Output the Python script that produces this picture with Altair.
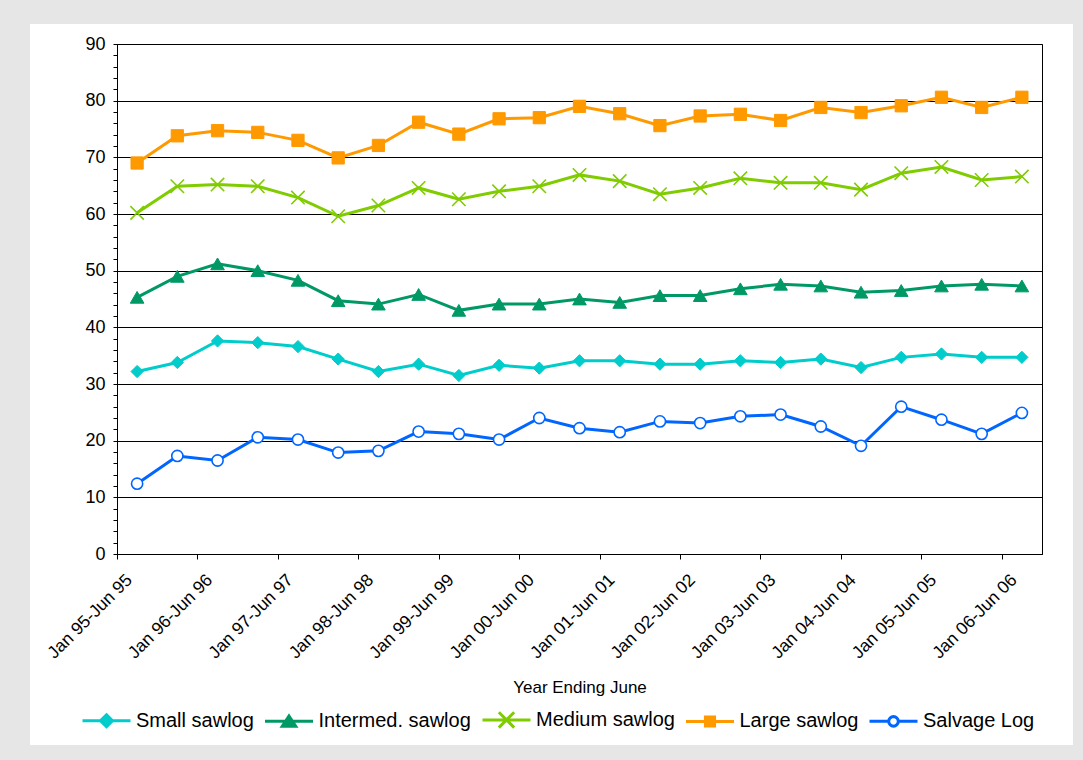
import json
import math
import altair as alt
import pandas as pd

periods = [
    "Jan 95-Jun 95", "Jul 95-Dec 95", "Jan 96-Jun 96", "Jul 96-Dec 96",
    "Jan 97-Jun 97", "Jul 97-Dec 97", "Jan 98-Jun 98", "Jul 98-Dec 98",
    "Jan 99-Jun 99", "Jul 99-Dec 99", "Jan 00-Jun 00", "Jul 00-Dec 00",
    "Jan 01-Jun 01", "Jul 01-Dec 01", "Jan 02-Jun 02", "Jul 02-Dec 02",
    "Jan 03-Jun 03", "Jul 03-Dec 03", "Jan 04-Jun 04", "Jul 04-Dec 04",
    "Jan 05-Jun 05", "Jul 05-Dec 05", "Jan 06-Jun 06",
]
series = ["Small sawlog", "Intermed. sawlog", "Medium sawlog", "Large sawlog", "Salvage Log"]

small = [32.2, 33.8, 37.6, 37.3, 36.6, 34.4, 32.2, 33.5, 31.5, 33.3, 32.8, 34.1,
         34.1, 33.5, 33.5, 34.1, 33.8, 34.4, 32.9, 34.7, 35.3, 34.7, 34.7]
intermed = [45.3, 49.0, 51.2, 50.0, 48.3, 44.7, 44.1, 45.8, 43.0, 44.1, 44.1, 45.0,
            44.4, 45.6, 45.6, 46.8, 47.6, 47.3, 46.2, 46.5, 47.3, 47.6, 47.3]
medium = [60.2, 64.9, 65.2, 64.9, 62.9, 59.6, 61.5, 64.6, 62.6, 64.0, 64.9, 66.9,
          65.8, 63.5, 64.6, 66.3, 65.5, 65.5, 64.3, 67.2, 68.3, 66.0, 66.6]
large = [69.0, 73.8, 74.7, 74.4, 73.0, 69.9, 72.1, 76.2, 74.1, 76.8, 77.0, 79.0,
         77.7, 75.6, 77.3, 77.6, 76.5, 78.8, 77.9, 79.1, 80.6, 78.8, 80.6]
salvage = [12.4, 17.3, 16.5, 20.6, 20.2, 17.9, 18.2, 21.6, 21.2, 20.2, 24.0, 22.2,
           21.5, 23.4, 23.1, 24.3, 24.6, 22.5, 19.1, 26.0, 23.7, 21.2, 24.9]

colors = ["#00CCCC", "#009966", "#7FCC00", "#FF9900", "#0066FF"]

FONT = "Liberation Sans"

rows = []
for name, vals in zip(series, [small, intermed, medium, large, salvage]):
    for i, v in enumerate(vals):
        rows.append({"series": name, "idx": i, "period": periods[i], "value": v})
df = pd.DataFrame(rows)

n = len(periods)
x_tick_values = [i - 0.5 for i in range(0, n, 2)]
y_values = list(range(0, 91, 2))

x_enc = alt.X(
    "idx:Q",
    scale=alt.Scale(domain=[-0.5, n - 0.5], nice=False, zero=False),
    axis=alt.Axis(
        values=x_tick_values,
        labelExpr=json.dumps(periods) + "[datum.value + 0.5]",
        labelOffset=12,
        labelAngle=-45,
        labelAlign="right",
        labelBaseline="middle",
        labelFlush=False,
        labelOverlap=False,
        labelFontSize=17.5,
        labelPadding=18,
        tickSize=5,
        grid=False,
        title="Year Ending June",
        titleFontSize=17,
        titleFontWeight="normal",
        titleY=138,
        titleBaseline="alphabetic",
    ),
)
y_enc = alt.Y(
    "value:Q",
    scale=alt.Scale(domain=[0, 90], nice=False, zero=True),
    axis=alt.Axis(
        values=y_values,
        labelExpr="datum.value % 10 === 0 ? datum.label : ''",
        gridOpacity={"condition": {"test": "datum.value % 10 === 0", "value": 1}, "value": 0},
        grid=True,
        tickSize=4,
        labelFontSize=18,
        labelPadding=8,
        title=None,
    ),
)

point_styles = {
    "Small sawlog": dict(shape="diamond", filled=True, size=150, strokeWidth=1),
    "Intermed. sawlog": dict(shape="triangle-up", filled=True, size=185, strokeWidth=1),
    "Medium sawlog": dict(shape="M-1,-1L1,1M-1,1L1,-1", filled=False, size=180, strokeWidth=1.6),
    "Large sawlog": dict(shape="square", filled=True, size=150, strokeWidth=1),
    "Salvage Log": dict(shape="circle", filled=False, fill="white", size=125, strokeWidth=1.6),
}

line_layers = []
point_layers = []
for name, c in zip(series, colors):
    sub = alt.Chart(df).transform_filter(alt.datum.series == name)
    line_layers.append(
        sub.mark_line(strokeWidth=3, color=c).encode(x=x_enc, y=y_enc)
    )
    st = point_styles[name]
    extra = {}
    if st["filled"]:
        extra["fill"] = c
    elif "fill" in st:
        extra["fill"] = st["fill"]
    point_layers.append(
        sub.mark_point(
            shape=st["shape"], filled=st["filled"], size=st["size"],
            strokeWidth=st["strokeWidth"], stroke=c, opacity=1, **extra
        ).encode(x=x_enc, y=y_enc)
    )


def poly_circle(r, k=16):
    pts = [(r * math.cos(2 * math.pi * j / k), r * math.sin(2 * math.pi * j / k)) for j in range(k)]
    return "M" + "L".join(f"{px:.3f},{py:.3f}" for px, py in pts) + "Z"


legend_paths = [
    "M-1,0L1,0M0,-0.25L0.25,0L0,0.25L-0.25,0ZM0,-0.12L0.12,0L0,0.12L-0.12,0Z",
    "M-1,0L1,0M0,-0.22L0.28,0.2L-0.28,0.2ZM0,-0.07L0.12,0.12L-0.12,0.12Z",
    "M-1,0L1,0M-0.32,-0.32L0.32,0.32M-0.32,0.32L0.32,-0.32",
    "M-1,0L1,0M-0.19,-0.19L0.19,-0.19L0.19,0.19L-0.19,0.19ZM-0.07,-0.07L0.07,-0.07L0.07,0.07L-0.07,0.07Z",
    "M-1,0L-0.21,0M0.21,0L1,0" + poly_circle(0.2),
]
leg = dict(
    orient="none", legendX=-36, legendY=650, direction="horizontal", title=None,
    labelFontSize=20, labelFont=FONT, labelColor="black", labelOffset=4,
    columnPadding=4.5, symbolSize=2304, symbolStrokeWidth=3, symbolOpacity=1,
)
legend_df = pd.DataFrame({"series": series, "idx": [0] * 5, "value": [0] * 5})
legend_layer = alt.Chart(legend_df).mark_point(filled=False, size=0, opacity=1).encode(
    x=x_enc,
    y=y_enc,
    color=alt.Color("series:N", scale=alt.Scale(domain=series, range=colors), legend=alt.Legend(**leg)),
    shape=alt.Shape("series:N", scale=alt.Scale(domain=series, range=legend_paths), legend=alt.Legend(**leg)),
)

frame = alt.Chart(alt.Data(values=[{"f": 1}])).mark_rect(
    fill="transparent", stroke="#E6E6E6", strokeWidth=46
).encode(
    x=alt.value(-110), x2=alt.value(979), y=alt.value(-43), y2=alt.value(724)
)

chart = (
    alt.layer(frame, *line_layers, *point_layers, legend_layer)
    .properties(
        width=925, height=510,
        padding={"left": 117, "top": 44, "right": 41, "bottom": 206},
        autosize=alt.AutoSizeParams(type="none"),
        background="white",
    )
    .configure(font=FONT)
    .configure_view(stroke="black", strokeWidth=1)
    .configure_axis(
        domainColor="black", tickColor="black", gridColor="black", gridWidth=1,
        labelColor="black", titleColor="black", labelFont=FONT, titleFont=FONT,
    )
)

chart.save("out.html", embed_options={"renderer": "svg", "actions": False})
